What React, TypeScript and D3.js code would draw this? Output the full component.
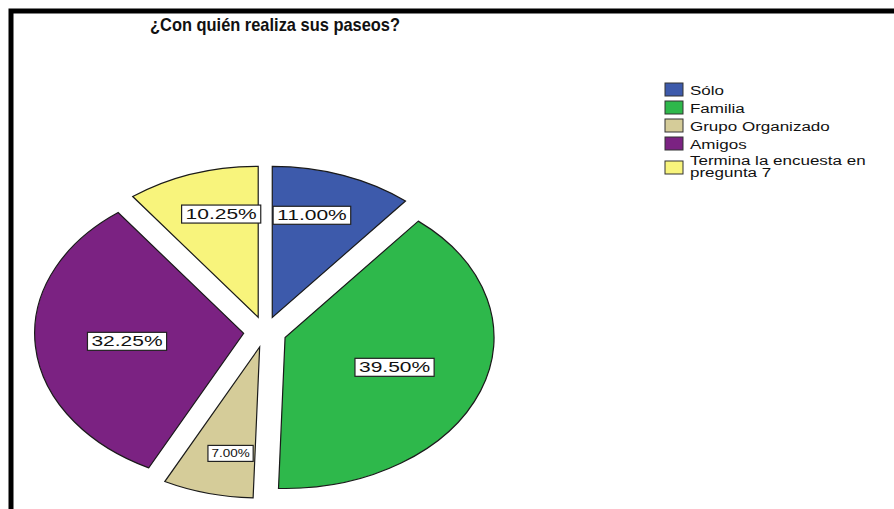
import * as React from 'react';
import { useEffect, useRef } from 'react';
import * as d3 from 'd3';

// Data
const chartTitle = '¿Con quién realiza sus paseos?';
const categories = ['Sólo', 'Familia', 'Grupo Organizado', 'Amigos', 'Termina la encuesta en pregunta 7'];
const percentages = [11.0, 39.5, 7.0, 32.25, 10.25];
const sliceColors = ['#3d5aab', '#2eb84b', '#d5cc99', '#7b2282', '#f8f47c'];

const WIDTH = 894;
const HEIGHT = 509;

const App: React.FC = () => {
  const svgRef = useRef<SVGSVGElement>(null);

  useEffect(() => {
    const svg = d3.select(svgRef.current);
    svg.selectAll('*').remove();

    const font = '"Liberation Sans", Arial, sans-serif';

    // frame (only top and left edges are visible)
    svg.append('path')
      .attr('d', `M11,${HEIGHT} V11 H${WIDTH}`)
      .attr('fill', 'none')
      .attr('stroke', '#000')
      .attr('stroke-width', 5);

    // title
    svg.append('text')
      .attr('x', 150)
      .attr('y', 31)
      .attr('font-family', font)
      .attr('font-weight', 'bold')
      .attr('font-size', 19)
      .attr('textLength', 250)
      .attr('lengthAdjust', 'spacingAndGlyphs')
      .attr('fill', '#111')
      .text(chartTitle);

    // pie (the picture is stretched horizontally)
    const cx = 265;
    const cy = 332;
    const radius = 151;
    const stretch = 1.384;
    const explode = 15.5;

    const pie = d3.pie<number>().sort(null).value(d => d);
    const arcs = pie(percentages);
    const arc = d3.arc<d3.PieArcDatum<number>>().innerRadius(0).outerRadius(radius);

    const pieG = svg.append('g')
      .attr('transform', `translate(${cx},${cy}) scale(${stretch},1)`);

    pieG.selectAll('path')
      .data(arcs)
      .enter().append('path')
      .attr('transform', d => {
        const mid = (d.startAngle + d.endAngle) / 2;
        return `translate(${explode * Math.sin(mid)},${-explode * Math.cos(mid)})`;
      })
      .attr('d', arc)
      .attr('fill', (_, i) => sliceColors[i])
      .attr('stroke', '#1a1a1a')
      .attr('stroke-width', 1.2)
      .attr('vector-effect', 'non-scaling-stroke');

    // value labels
    const labels = svg.append('g');
    arcs.forEach(d => {
      const mid = (d.startAngle + d.endAngle) / 2;
      const half = (d.endAngle - d.startAngle) / 2;
      // sector centroid distance for vertical placement, fixed share horizontally
      const fy = Math.min(0.74, (2 / 3) * Math.sin(half) / half * 1.1);
      const ax = cx + stretch * explode * Math.sin(mid);
      const ay = cy - explode * Math.cos(mid);
      const lx = ax + 0.56 * radius * stretch * Math.sin(mid);
      const ly = ay - fy * radius * Math.cos(mid);
      const small = d.value < 8;
      const fs = small ? 10 : 14;
      const sx = small ? 1.35 : 1.5;
      const boxH = small ? 16 : 18;

      const lg = labels.append('g').attr('transform', `translate(${lx},${ly})`);
      const rect = lg.append('rect');
      const t = lg.append('text')
        .attr('transform', `scale(${sx},1)`)
        .attr('text-anchor', 'middle')
        .attr('dominant-baseline', 'central')
        .attr('font-family', font)
        .attr('font-size', fs)
        .attr('fill', '#111')
        .text(`${d.value.toFixed(2)}%`);
      const w = (t.node() as SVGTextElement).getComputedTextLength() * sx + (small ? 7 : 8);
      rect.attr('x', -w / 2)
        .attr('y', -boxH / 2)
        .attr('width', w)
        .attr('height', boxH)
        .attr('fill', '#fff')
        .attr('stroke', '#222')
        .attr('stroke-width', 1.2);
    });

    // legend
    const legendX = 665;
    const legendTop = 83;
    const rowH = 18;
    const lineH = 12.5;
    const legendScale = 1.36;
    const maxTextW = 150;

    const legend = svg.append('g').attr('font-family', font).attr('font-size', 12.5);
    let y = legendTop;
    categories.forEach((name, i) => {
      const row = legend.append('g').attr('transform', `translate(${legendX},${y})`);
      const t = row.append('text')
        .attr('transform', `translate(25,0) scale(${legendScale},1)`)
        .attr('fill', '#111');
      // simple word wrap
      const words = name.split(' ');
      const lines: string[] = [];
      let cur = '';
      words.forEach(wd => {
        const test = cur ? cur + ' ' + wd : wd;
        const probe = t.append('tspan').text(test);
        const len = (probe.node() as SVGTextContentElement).getComputedTextLength();
        probe.remove();
        if (len > maxTextW && cur) {
          lines.push(cur);
          cur = wd;
        } else {
          cur = test;
        }
      });
      lines.push(cur);
      lines.forEach((ln, j) => {
        t.append('tspan')
          .attr('x', 0)
          .attr('y', (lines.length > 1 ? 9.5 : 11.5) + j * lineH)
          .text(ln);
      });
      const swY = lines.length > 1 ? 6 : 0;
      row.insert('rect', 'text')
        .attr('x', 0)
        .attr('y', swY)
        .attr('width', 18)
        .attr('height', 13)
        .attr('fill', sliceColors[i])
        .attr('stroke', '#333')
        .attr('stroke-width', 1);
      y += rowH + (lines.length - 1) * lineH;
    });
  }, []);

  return (
    <svg
      ref={svgRef}
      width={WIDTH}
      height={HEIGHT}
      style={{ position: 'absolute', left: 0, top: 0, background: '#fff' }}
    />
  );
};

export default App;
